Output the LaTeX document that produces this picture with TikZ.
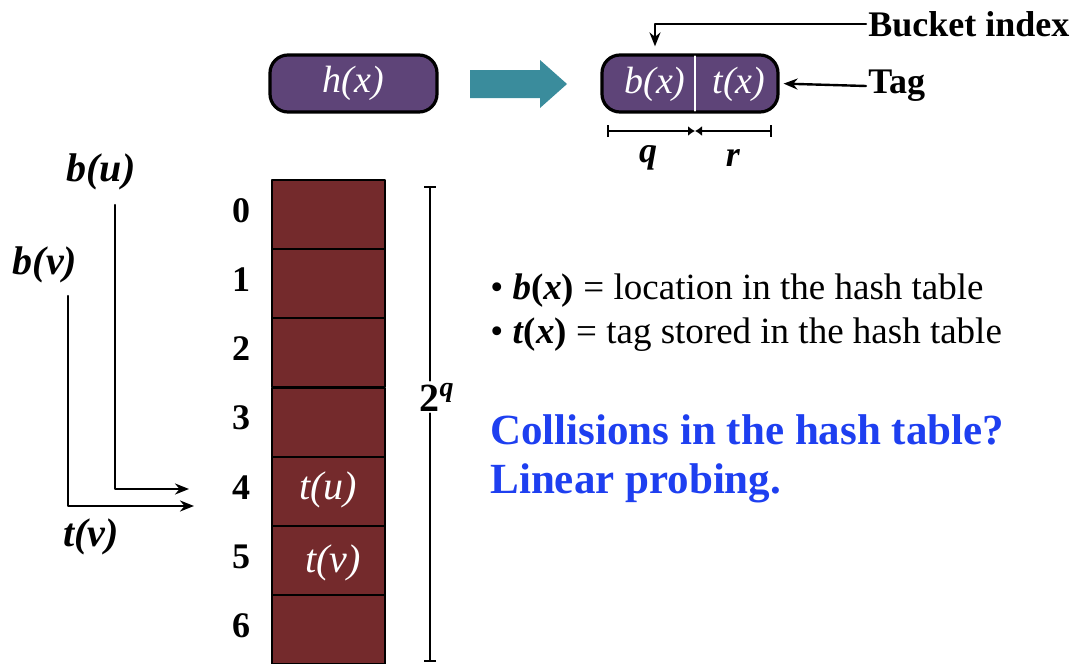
\documentclass[tikz,border=0pt]{standalone}
\usepackage{fontspec}
\setmainfont{Liberation Serif}
\usetikzlibrary{arrows.meta,positioning}
\definecolor{HashPurple}{HTML}{5E4478}
\definecolor{HashTeal}{HTML}{3A8C9C}
\definecolor{CellRed}{HTML}{742A2C}
\definecolor{NoteBlue}{HTML}{1E3FF0}

\begin{document}
\begin{tikzpicture}[x=0.5pt,y=-0.5pt,line cap=round,line join=round,
  hbox/.style={draw=black,line width=1.6pt,fill=HashPurple,rounded corners=9pt,
    minimum height=28.5pt,minimum width=83.5pt,inner sep=0pt},
  cell/.style={draw=black,line width=1pt,fill=CellRed,minimum width=56.5pt,
    minimum height=34.5pt,inner sep=0pt},
  lbl/.style={font=\fontsize{20}{23}\selectfont\bfseries\itshape,inner sep=1pt},
  idx/.style={font=\fontsize{18}{21}\selectfont\bfseries,inner sep=1pt},
  wtxt/.style={text=white,font=\fontsize{19}{22}\selectfont\itshape,inner sep=1pt},
  word/.style={font=\fontsize{18}{21}\selectfont\bfseries,inner sep=1pt},
  conn/.style={line width=1.2pt,-{Stealth[length=7pt,width=5.5pt]}}]
  \useasboundingbox (0,0) rectangle (1078,664);

  \node[hbox] (hx) at (353.5,83.5) {};
  \node[wtxt] (hxt) at (hx) {\textit{h}(\textit{x})};
  \fill[HashTeal] (470,70) -- (540,70) -- (540,60) -- (567,84) -- (540,108)
    -- (540,98) -- (470,98) -- cycle;
  \node[hbox,minimum width=88pt] (key) at (690,83.5) {};
  \node[wtxt] (bx) at (655,84) {\textit{b}(\textit{x})};
  \node[wtxt] (tx) at (739,84) {\textit{t}(\textit{x})};
  \draw[white,line width=1pt] ([xshift=2.5pt,yshift=-1.5pt]key.north)
    -- ([xshift=2.5pt,yshift=1.5pt]key.south);

  \node[word,anchor=west] (bucket) at (866,24) {Bucket index};
  \node[word,anchor=west] (tag) at (866,86) {Tag};
  \draw[conn,shorten >=3.5pt] (bucket.west) -| (bx |- key.north);
  \draw[conn,shorten >=2pt] (tag.west) -- (key.east);

  \coordinate (ql) at (607,131);
  \coordinate (qm) at (695,131);
  \coordinate (rr) at (772,131);
  \draw[line width=1.2pt,{Bar[width=6pt]}-{Latex[length=3.5pt,width=5pt]}] (ql) -- (qm);
  \draw[line width=1.2pt,{Latex[length=3.5pt,width=5pt]}-{Bar[width=6pt]}] (qm) -- (rr);
  \node[lbl,font=\fontsize{18}{21}\selectfont\bfseries\itshape] (q) at (648,158) {q};
  \node[lbl,font=\fontsize{18}{21}\selectfont\bfseries\itshape] (r) at (733,158) {r};

  \foreach \i in {0,...,6} {
    \node[cell] (c\i) at (328.5,{214.5+69.2*\i}) {};
    \node[idx] (n\i) at (241,{210.5+69.2*\i}) {\i};
  }
  \node[wtxt,font=\fontsize{20}{23}\selectfont\itshape] (tu) at (328,490) {t(u)};
  \node[wtxt,font=\fontsize{20}{23}\selectfont\itshape] (tv) at (333,563) {t(v)};

  \node[lbl,font=\fontsize{20}{23}\selectfont\bfseries] (twoq) at (437,397) {2\textsuperscript{\itshape q}};
  \coordinate (dtop) at (430,186);
  \coordinate (dbot) at (430,662);
  \draw[line width=1.2pt,{Bar[width=6pt]}-] (dtop) -- (dtop |- twoq.north);
  \draw[line width=1.2pt,-{Bar[width=6pt]}] (dtop |- twoq.south) -- (dbot);

  \node[lbl] (bu) at (101,172) {b(u)};
  \node[lbl] (bv) at (45,265) {b(v)};
  \node[lbl] (tvl) at (91,537) {t(v)};
  \coordinate (ustart) at (115,205);
  \coordinate (uend) at (189,489);
  \coordinate (vstart) at (68,296);
  \coordinate (vend) at (194,506);
  \draw[conn] (ustart) |- (uend);
  \draw[conn] (vstart) |- (vend);

  \node[anchor=west,font=\fontsize{18.5}{22}\selectfont,inner sep=1pt] (line1) at (488,291)
    {• \textbf{\textit{b}(\textit{x})} = location in the hash table};
  \node[anchor=west,font=\fontsize{18.5}{22}\selectfont,inner sep=1pt] (line2) at (488,335)
    {• \textbf{\textit{t}(\textit{x})} = tag stored in the hash table};
  \node[word,anchor=west,text=NoteBlue,font=\fontsize{21.5}{25}\selectfont\bfseries] (ask) at (488,430)
    {Collisions in the hash table?};
  \node[word,anchor=west,text=NoteBlue,font=\fontsize{21.5}{25}\selectfont\bfseries] (ans) at (488,483)
    {Linear probing.};
\end{tikzpicture}
\end{document}
